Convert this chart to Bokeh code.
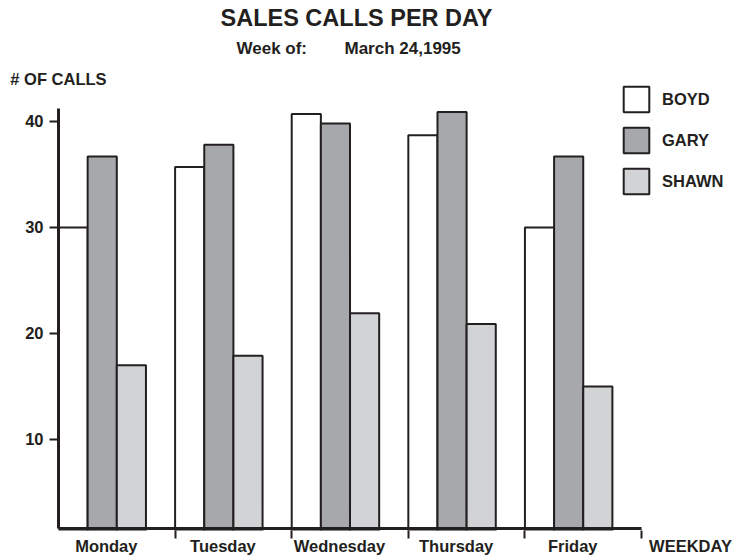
from bokeh.plotting import figure
from bokeh.models import (ColumnDataSource, Range1d, FixedTicker, Label, Legend, LegendItem, LinearAxis)
from bokeh.transform import dodge
from bokeh.embed import file_html
from bokeh.resources import INLINE

days = ["Monday", "Tuesday", "Wednesday", "Thursday", "Friday"]
boyd = [30, 35.7, 40.7, 38.7, 30]
gary = [36.7, 37.8, 39.8, 40.9, 36.7]
shawn = [17, 17.9, 21.9, 20.9, 15]
y_ticks = [10, 20, 30, 40]
series_names = ["BOYD", "GARY", "SHAWN"]
title = "SALES CALLS PER DAY"
sub_left = "Week of:"
sub_right = "March 24,1995"
y_title = "# OF CALLS"
x_title = "WEEKDAY"

FONT = "Liberation Sans"
INK = "#231f20"
colors = ["#ffffff", "#a7a8ab", "#d2d3d5"]

# axis extents (value scale)
y_lo, y_hi = 1.415, 51.415      # visible range of the frame
y_axis_lo, y_axis_hi = 1.6, 41.2  # drawn extent of the value axis
x_hi = 5.78
label_off = 0.41
x_title_pos = 5.42

src = ColumnDataSource(dict(idx=list(range(len(days))), boyd=boyd, gary=gary, shawn=shawn))

p = figure(width=732, height=558, x_range=Range1d(0, x_hi), y_range=Range1d(y_lo, y_hi),
           output_backend="svg", toolbar_location=None,
           min_border_left=58, min_border_right=0, min_border_top=0, min_border_bottom=28)
p.outline_line_color = None
p.xgrid.visible = False
p.ygrid.visible = False
p.background_fill_color = "white"
p.border_fill_color = "white"

bw = 0.25
renderers = []
for k, (col, c) in enumerate(zip(["boyd", "gary", "shawn"], colors)):
    r = p.vbar(x=dodge("idx", bw * (k + 0.5)), top=col, bottom=0, width=bw, source=src,
               fill_color=c, line_color=INK, line_width=2)
    renderers.append(r)

# category axis baseline (ends at the last category)
p.segment(x0=[0], y0=[y_axis_lo], x1=[len(days)], y1=[y_axis_lo], line_width=3, line_color=INK)

# x axis: boundary ticks as minor ticks, day names as labels
xa = p.xaxis[0]
label_pos = [i + label_off for i in range(len(days))] + [x_title_pos]
xa.ticker = FixedTicker(ticks=label_pos, minor_ticks=[i + 1 for i in range(len(days))])
xa.major_label_overrides = {pos: t for pos, t in zip(label_pos, days + [x_title])}
xa.axis_line_color = None
xa.major_tick_line_color = None
xa.major_tick_out = 0
xa.major_tick_in = 0
xa.minor_tick_out = 8
xa.minor_tick_in = 0
xa.minor_tick_line_width = 2
xa.minor_tick_line_color = INK
xa.major_label_standoff = -2
xa.major_label_text_font = FONT
xa.major_label_text_font_style = "bold"
xa.major_label_text_font_size = "16.5px"
xa.major_label_text_color = INK

ya = p.yaxis[0]
ya.bounds = (y_axis_lo, y_axis_hi)
ya.ticker = FixedTicker(ticks=y_ticks)
ya.major_tick_out = 9
ya.major_tick_in = 0
ya.major_tick_line_width = 2
ya.major_tick_line_color = INK
ya.minor_tick_line_color = None
ya.axis_line_width = 3
ya.axis_line_color = INK
ya.major_label_text_font = FONT
ya.major_label_text_font_style = "bold"
ya.major_label_text_font_size = "16.5px"
ya.major_label_text_color = INK
ya.major_label_standoff = 6

# value-axis title placed as a label of an axis above the frame
top_ax = LinearAxis(ticker=FixedTicker(ticks=[0]), major_label_overrides={0: y_title},
                    axis_line_color=None, major_tick_line_color=None, minor_tick_line_color=None,
                    major_tick_out=0, major_tick_in=0, major_label_standoff=-87,
                    major_label_text_font=FONT, major_label_text_font_style="bold",
                    major_label_text_font_size="16.5px", major_label_text_color=INK)
p.add_layout(top_ax, "above")

def lab(text, x, y, size="16.5px", align="left"):
    p.add_layout(Label(x=x, y=y, x_units="screen", y_units="screen", text=text,
                       text_font=FONT, text_font_style="bold", text_font_size=size,
                       text_color=INK, text_align=align, text_baseline="alphabetic"))

lab(title, 298, 513, size="23.5px", align="center")
lab(sub_left, 178, 482, size="17px")
lab(sub_right, 286, 482, size="17px")

legend = Legend(items=[LegendItem(label=n, renderers=[r]) for n, r in zip(series_names, renderers)],
                location=(562, 333), glyph_width=32, glyph_height=32, spacing=9,
                label_standoff=10, padding=0, margin=0, border_line_color=None,
                background_fill_alpha=0, label_text_font=FONT, label_text_font_style="bold",
                label_text_font_size="16.5px", label_text_color=INK)
p.add_layout(legend)

open("out.html", "w").write(file_html(p, INLINE))
